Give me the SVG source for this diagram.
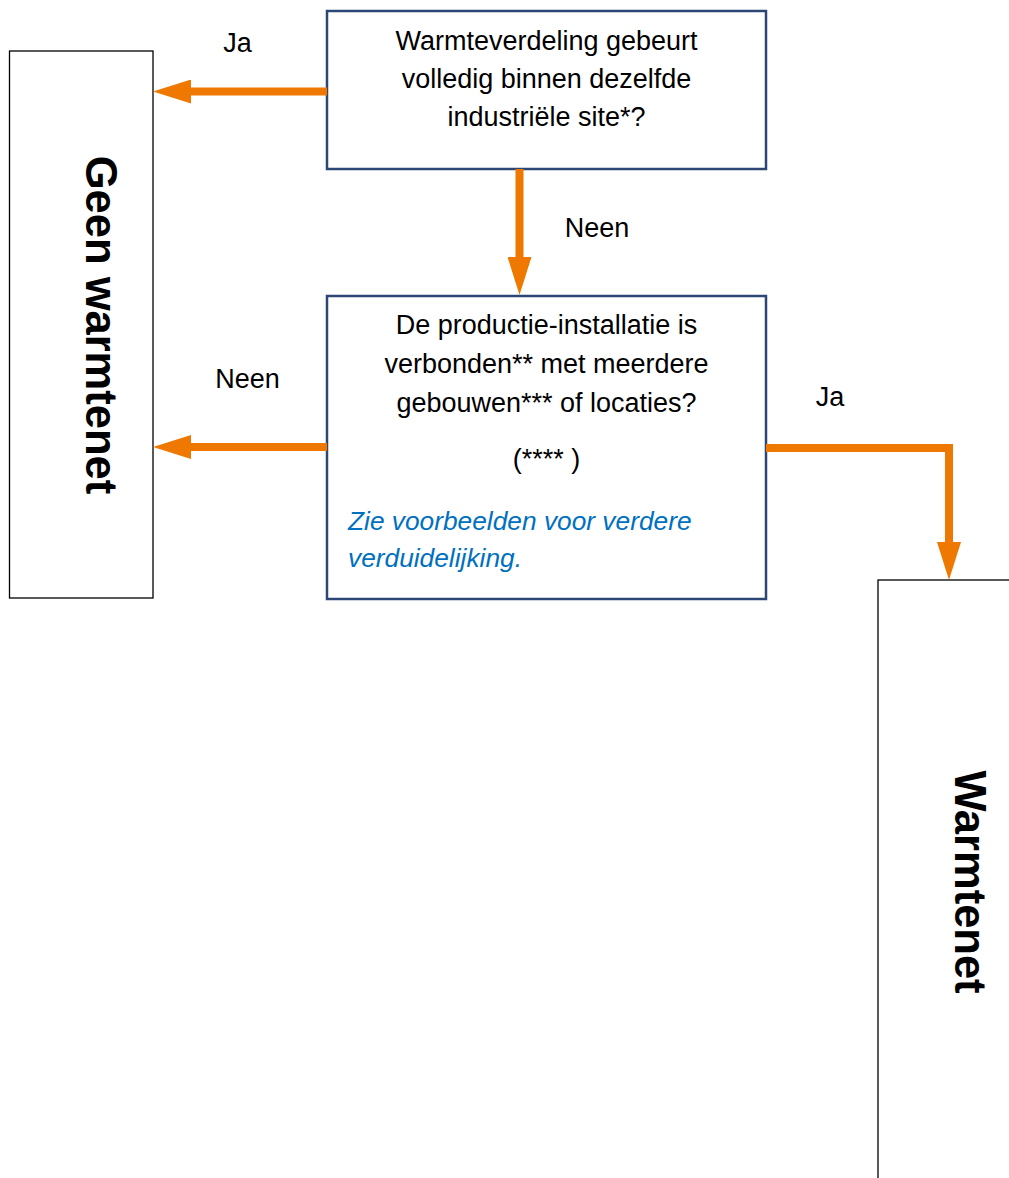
<svg xmlns="http://www.w3.org/2000/svg" width="1009" height="1178" viewBox="0 0 1009 1178">
  <style>
    .q { fill: #ffffff; stroke: #2C4675; stroke-width: 2.5; }
    .r { fill: #ffffff; stroke: #000000; stroke-width: 1.3; }
    .t { font-family: "Liberation Sans", Arial, sans-serif; font-size: 27px; fill: #000000; text-anchor: middle; }
    .b { font-family: "Liberation Sans", Arial, sans-serif; font-size: 26.3px; fill: #0070C0; font-style: italic; }
    .v { font-family: "Liberation Sans", Arial, sans-serif; font-size: 43.5px; font-weight: bold; fill: #000000; text-anchor: middle; }
    .c { fill: none; stroke: #EE7800; stroke-width: 8; stroke-linejoin: miter; }
  </style>
  <defs>
    <marker id="ah" markerUnits="userSpaceOnUse" markerWidth="38" markerHeight="24" viewBox="0 0 38 24" refX="0" refY="12" orient="auto">
      <path d="M0,0 L38,12 L0,24 Z" fill="#EE7800"/>
    </marker>
  </defs>

  <g id="node-geen-warmtenet">
    <rect class="r" x="9.5" y="51" width="143.5" height="547"/>
    <text class="v" transform="translate(86,325) rotate(90)">Geen warmtenet</text>
  </g>

  <g id="node-warmtenet">
    <rect class="r" x="878" y="580" width="140" height="610"/>
    <text class="v" transform="translate(955,882) rotate(90)">Warmtenet</text>
  </g>

  <g id="node-q1">
    <rect class="q" x="327" y="11" width="439" height="158"/>
    <text class="t" x="546.5" y="50">Warmteverdeling gebeurt</text>
    <text class="t" x="546.5" y="88">volledig binnen dezelfde</text>
    <text class="t" x="546.5" y="126">industriële site*?</text>
  </g>

  <g id="node-q2">
    <rect class="q" x="327" y="296" width="439" height="303"/>
    <text class="t" x="546.5" y="334">De productie-installatie is</text>
    <text class="t" x="546.5" y="373">verbonden** met meerdere</text>
    <text class="t" x="546.5" y="412">gebouwen*** of locaties?</text>
    <text class="t" x="546.5" y="468">(**** )</text>
    <text class="b" x="348" y="530">Zie voorbeelden voor verdere</text>
    <text class="b" x="348" y="567">verduidelijking.</text>
  </g>

  <g id="connectors">
    <path class="c" d="M327,91.5 H191" marker-end="url(#ah)"/>
    <path class="c" d="M519.5,169 V257" marker-end="url(#ah)"/>
    <path class="c" d="M327,447 H191" marker-end="url(#ah)"/>
    <path class="c" d="M766,448 H949 V542" marker-end="url(#ah)"/>
    <text class="t" x="237.5" y="52">Ja</text>
    <text class="t" x="597" y="237">Neen</text>
    <text class="t" x="247.5" y="388">Neen</text>
    <text class="t" x="830" y="406">Ja</text>
  </g>
</svg>
